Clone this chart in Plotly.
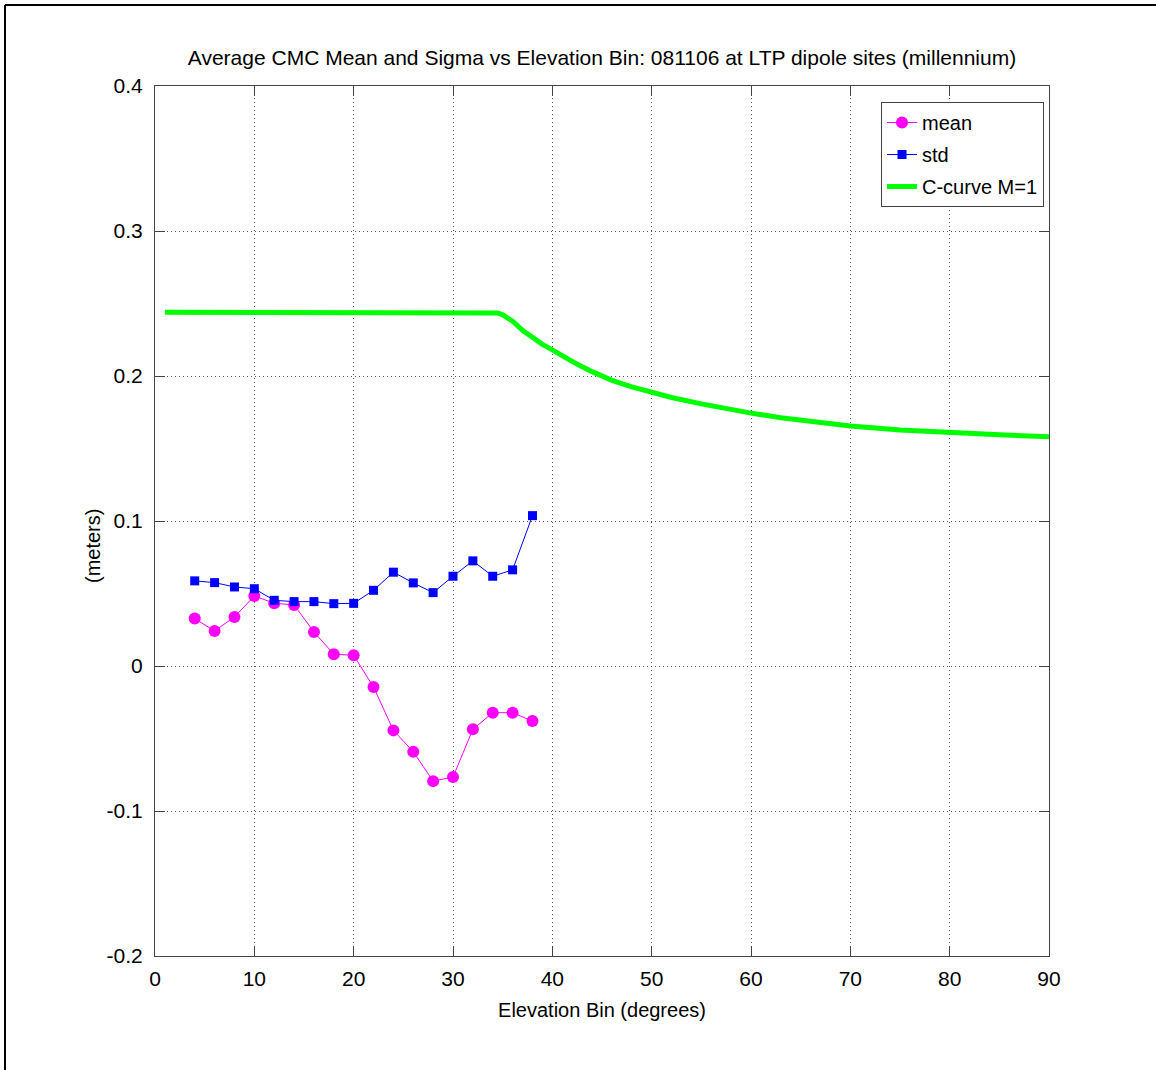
import plotly.graph_objects as go

# Elevation bins (degrees) for the CMC statistics
elev_bins = [4, 6, 8, 10, 12, 14, 16, 18, 20, 22, 24, 26, 28, 30, 32, 34, 36, 38]

# Average CMC mean per bin (meters)
cmc_mean = [0.0327, 0.0242, 0.0338, 0.0483, 0.0433, 0.0421, 0.0235, 0.0081, 0.0074,
            -0.0145, -0.0444, -0.0591, -0.0794, -0.0766, -0.0437, -0.0322, -0.0322, -0.0380]

# Average CMC sigma per bin (meters)
cmc_std = [0.0587, 0.0575, 0.0545, 0.0533, 0.0453, 0.0444, 0.0444, 0.0430, 0.0432,
           0.0522, 0.0647, 0.0573, 0.0506, 0.0619, 0.0725, 0.0619, 0.0663, 0.1037]

# C-curve (M=1) reference limit
ccurve_elev = [1, 10, 20, 30, 34, 34.5, 35, 35.5, 36, 37, 38, 39, 40, 42, 44, 46, 48, 50,
               52, 55, 58, 60, 63, 66, 70, 75, 80, 85, 90]
ccurve_val = [0.244, 0.244, 0.244, 0.244, 0.244, 0.2435, 0.2422, 0.2402, 0.2378, 0.2315,
              0.2262, 0.2218, 0.2180, 0.2100, 0.2030, 0.1970, 0.1925, 0.1885, 0.1852,
              0.1808, 0.1768, 0.1744, 0.1712, 0.1685, 0.1655, 0.1628, 0.1609, 0.1594, 0.1581]

x_ticks = [0, 10, 20, 30, 40, 50, 60, 70, 80, 90]
y_ticks = [-0.2, -0.1, 0, 0.1, 0.2, 0.3, 0.4]
y_tick_text = ["-0.2", "-0.1", "0", "0.1", "0.2", "0.3", "0.4"]

FONT = "Arial, Liberation Sans, sans-serif"

W, H = 1156, 1070
ML, MR, MT, MB = 155, 107, 86, 114
plot_w = W - ML - MR
plot_h = H - MT - MB


def px_x(px):
    return (px - ML) / plot_w


def px_y(py):
    return (H - MB - py) / plot_h


fig = go.Figure()

fig.add_trace(go.Scatter(
    x=elev_bins, y=cmc_mean, mode="lines+markers", name="mean",
    line=dict(color="#ff00ff", width=1),
    marker=dict(symbol="circle", size=12, color="#ff00ff"),
    legendgroup="a",
))
fig.add_trace(go.Scatter(
    x=elev_bins, y=cmc_std, mode="lines+markers", name="std",
    line=dict(color="#0000ff", width=1),
    marker=dict(symbol="square", size=9, color="#0000ff"),
    legendgroup="b",
))
fig.add_trace(go.Scatter(
    x=ccurve_elev, y=ccurve_val, mode="lines", name="C-curve M=1",
    line=dict(color="#00ff00", width=5),
    legendgroup="c",
))

axis_common = dict(
    showline=True, linecolor="#444444", linewidth=1, mirror="ticks",
    ticks="inside", ticklen=10, tickcolor="#444444", tickwidth=1,
    showgrid=True, gridcolor="#555555", griddash="1px,3px", gridwidth=1,
    zeroline=False,
    tickfont=dict(family=FONT, size=21, color="#000000"),
)

fig.update_xaxes(
    range=[0, 90], tickvals=x_ticks, ticklabelstandoff=4, **axis_common,
    title=dict(text="Elevation Bin (degrees)", font=dict(family=FONT, size=20, color="#000000"),
               standoff=13),
)
fig.update_yaxes(
    range=[-0.2, 0.4], tickvals=y_ticks, ticktext=y_tick_text, ticklabelstandoff=7,
    **axis_common,
)

fig.update_layout(
    width=W, height=H,
    margin=dict(l=ML, r=MR, t=MT, b=MB),
    paper_bgcolor="#ffffff", plot_bgcolor="#ffffff",
    title=dict(
        text="Average CMC Mean and Sigma vs Elevation Bin: 081106 at LTP dipole sites (millennium)",
        font=dict(family=FONT, size=21, color="#000000"),
        xref="paper", x=0.5, xanchor="center", y=1 - 58 / H, yanchor="middle",
    ),
    legend=dict(
        x=px_x(1044), xanchor="right", y=px_y(102), yanchor="top",
        xref="paper", yref="paper",
        bgcolor="#ffffff", bordercolor="#444444", borderwidth=1,
        font=dict(family=FONT, size=20, color="#000000"),
        tracegroupgap=3, itemwidth=30,
    ),
    showlegend=True,
    annotations=[
        dict(text="(meters)", textangle=-90, x=px_x(93), y=px_y(546),
             xanchor="center", yanchor="middle", xref="paper", yref="paper",
             showarrow=False, font=dict(family=FONT, size=20, color="#000000")),
    ],
    shapes=[
        # outer frame of the figure (left and top edges)
        dict(type="line", xref="paper", yref="paper", x0=px_x(5), x1=px_x(5),
             y0=px_y(H), y1=px_y(5), line=dict(color="#000000", width=2)),
        dict(type="line", xref="paper", yref="paper", x0=px_x(5), x1=px_x(W),
             y0=px_y(5), y1=px_y(5), line=dict(color="#000000", width=2)),
    ],
)

fig.write_html("out.html")
